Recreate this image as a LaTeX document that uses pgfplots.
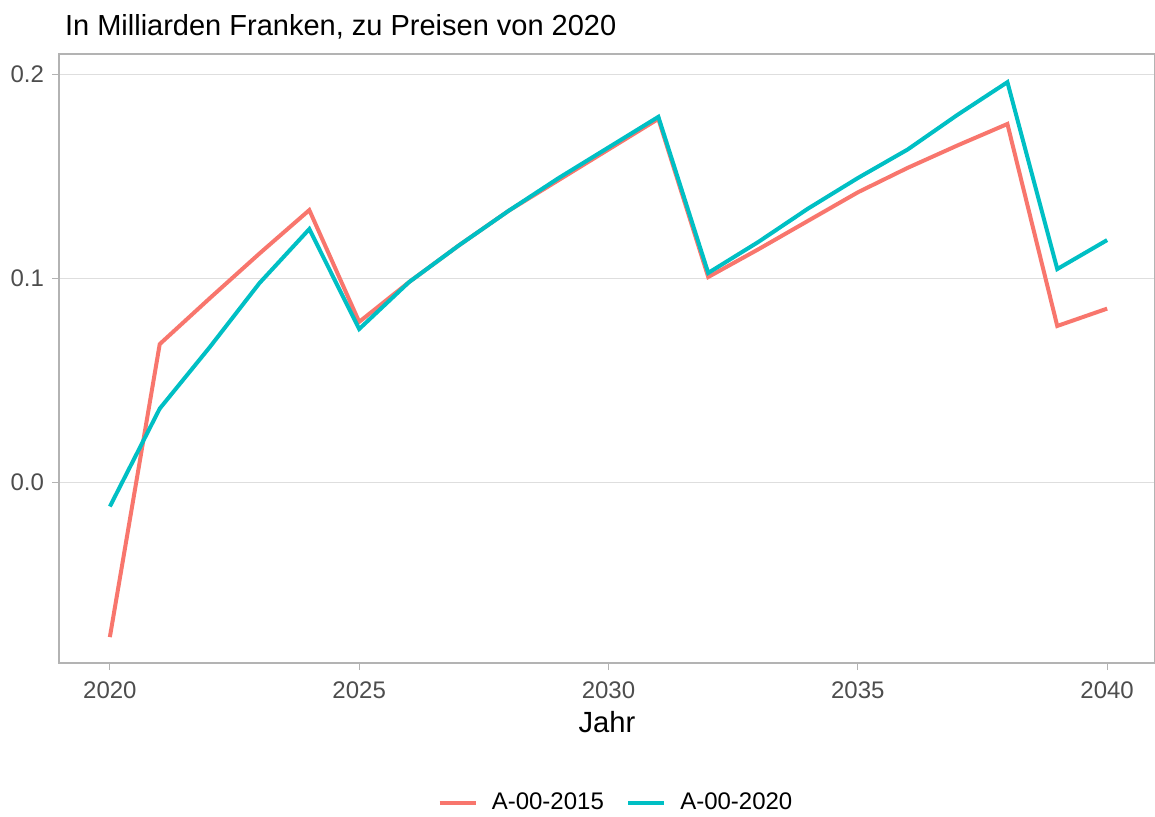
\documentclass[border=0pt]{standalone}
\usepackage{pgfplots}
\pgfplotsset{compat=1.18}
\usepackage{fontspec}
\setmainfont{Liberation Sans}
\definecolor{cred}{HTML}{F8766D}
\definecolor{ccyan}{HTML}{00BFC4}
\definecolor{tickgray}{HTML}{4D4D4D}
\definecolor{framegray}{HTML}{B3B3B3}
\definecolor{gridgray}{HTML}{DEDEDE}
\begin{document}
\begin{tikzpicture}
\useasboundingbox (-29.5pt,-76.5pt) rectangle (548pt,331.5pt);
\begin{axis}[
  scale only axis, width=548pt, height=304.5pt,
  xmin=2018.98, xmax=2040.96, ymin=-0.0887, ymax=0.2098,
  xtick={2020,2025,2030,2035,2040},
  ytick={0,0.1,0.2},
  yticklabels={0.0,0.1,0.2},
  xtick pos=bottom, ytick pos=left,
  xticklabel style={/pgf/number format/1000 sep={}, yshift=-2.5pt},
  yticklabel style={xshift=-0.5pt},
  /pgf/number format/assume math mode=true,
  ticklabel style={font=\fontsize{12}{14}\selectfont, text=tickgray},
  tick align=outside, major tick length=3.5pt,
  tick style={framegray, line width=0.5pt},
  axis line style={framegray, line width=0.6pt},
  ymajorgrids, xmajorgrids=false,
  major grid style={gridgray, line width=0.5pt},
  clip=false,
  legend style={at={(0.509,-0.23)}, anchor=center, draw=none, fill=none,
    legend columns=2, font=\fontsize{12}{14}\selectfont,
    /tikz/every odd column/.append style={column sep=5pt},
    /tikz/every even column/.append style={column sep=9pt}},
  legend image code/.code={\draw[line width=2.2pt,#1] (0pt,0pt) -- (18pt,0pt);},
]
\addplot[cred, line width=2pt] coordinates {
(2020,-0.076) (2021,0.0676) (2022,0.090) (2023,0.112) (2024,0.1333)
(2025,0.0785) (2026,0.098) (2027,0.116) (2028,0.133) (2029,0.148)
(2030,0.163) (2031,0.178) (2032,0.1005) (2033,0.114) (2034,0.128)
(2035,0.142) (2036,0.154) (2037,0.165) (2038,0.1755) (2039,0.0765) (2040,0.085)};
\addlegendentry{A-00-2015}
\addplot[ccyan, line width=2pt] coordinates {
(2020,-0.012) (2021,0.036) (2022,0.066) (2023,0.0975) (2024,0.124)
(2025,0.075) (2026,0.098) (2027,0.116) (2028,0.133) (2029,0.149)
(2030,0.164) (2031,0.179) (2032,0.1025) (2033,0.1176) (2034,0.134)
(2035,0.149) (2036,0.163) (2037,0.180) (2038,0.196) (2039,0.1044) (2040,0.1186)};
\addlegendentry{A-00-2020}
\node[anchor=base, font=\fontsize{14.6}{16}\selectfont] at (rel axis cs:0.5,0) [yshift=-34.5pt] {Jahr};
\node[anchor=base west, font=\fontsize{14.5}{16}\selectfont] at (rel axis cs:0,1) [yshift=9.5pt, xshift=-0.5pt] {In Milliarden Franken, zu Preisen von 2020};
\end{axis}
\draw[framegray, line width=0.6pt] (0,0) rectangle (548pt,304.5pt);
\end{tikzpicture}
\end{document}
